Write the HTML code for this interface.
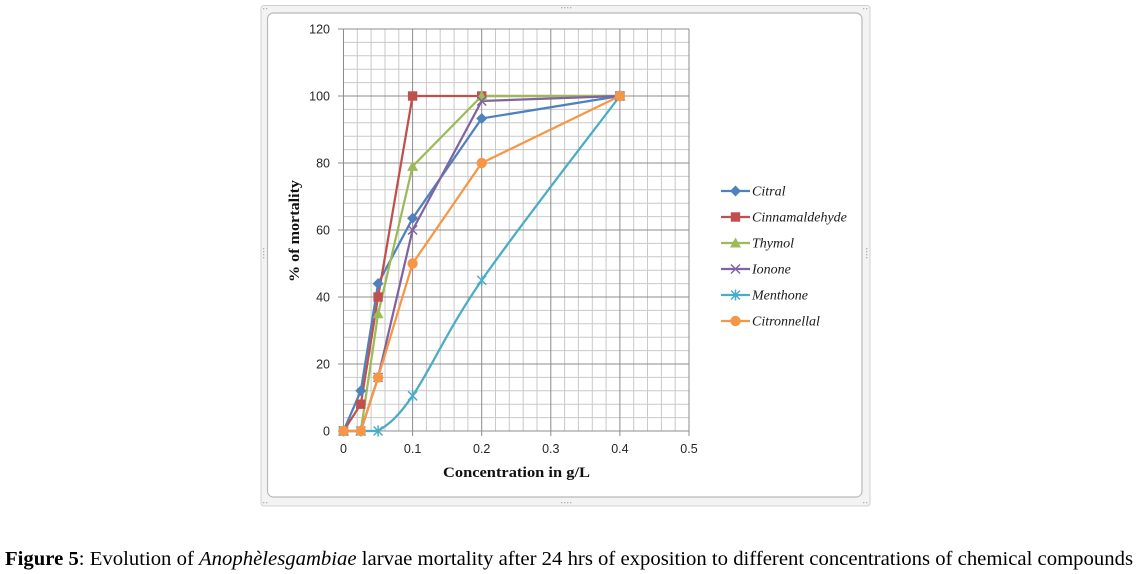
<!DOCTYPE html>
<html><head><meta charset="utf-8"><style>
html,body{margin:0;padding:0;background:#fff;}
svg{display:block;}
</style></head><body>
<svg width="1139" height="574" viewBox="0 0 1139 574" xmlns="http://www.w3.org/2000/svg">
<rect x="0" y="0" width="1139" height="574" fill="#fff"/>
<!-- frame -->
<rect x="261" y="5.5" width="609" height="500.5" rx="3" fill="#f3f3f3" stroke="#d2d2d2" stroke-width="1"/>
<rect x="267.5" y="13" width="594.5" height="484" rx="6" fill="#ffffff" stroke="#b9b9b9" stroke-width="1.2"/>
<g fill="#b0b0b0">
<rect x="561" y="7" width="1.3" height="1.3"/><rect x="564" y="7" width="1.3" height="1.3"/><rect x="567" y="7" width="1.3" height="1.3"/><rect x="570" y="7" width="1.3" height="1.3"/>
<rect x="561" y="502" width="1.3" height="1.3"/><rect x="564" y="502" width="1.3" height="1.3"/><rect x="567" y="502" width="1.3" height="1.3"/><rect x="570" y="502" width="1.3" height="1.3"/>
<rect x="263" y="248" width="1.3" height="1.3"/><rect x="263" y="251" width="1.3" height="1.3"/><rect x="263" y="254" width="1.3" height="1.3"/><rect x="263" y="257" width="1.3" height="1.3"/>
<rect x="866" y="248" width="1.3" height="1.3"/><rect x="866" y="251" width="1.3" height="1.3"/><rect x="866" y="254" width="1.3" height="1.3"/><rect x="866" y="257" width="1.3" height="1.3"/>
<rect x="263" y="8" width="1.3" height="1.3"/><rect x="266" y="8" width="1.3" height="1.3"/>
<rect x="863" y="8" width="1.3" height="1.3"/><rect x="866" y="8" width="1.3" height="1.3"/>
<rect x="263" y="502" width="1.3" height="1.3"/><rect x="266" y="502" width="1.3" height="1.3"/>
<rect x="863" y="502" width="1.3" height="1.3"/><rect x="866" y="502" width="1.3" height="1.3"/>
</g>

<!-- minor grid -->
<g stroke="#c9c9c9" stroke-width="1">
<line x1="357.3" y1="29" x2="357.3" y2="431"/><line x1="371.1" y1="29" x2="371.1" y2="431"/><line x1="385.0" y1="29" x2="385.0" y2="431"/><line x1="398.8" y1="29" x2="398.8" y2="431"/>
<line x1="426.4" y1="29" x2="426.4" y2="431"/><line x1="440.2" y1="29" x2="440.2" y2="431"/><line x1="454.1" y1="29" x2="454.1" y2="431"/><line x1="467.9" y1="29" x2="467.9" y2="431"/>
<line x1="495.5" y1="29" x2="495.5" y2="431"/><line x1="509.3" y1="29" x2="509.3" y2="431"/><line x1="523.2" y1="29" x2="523.2" y2="431"/><line x1="537.0" y1="29" x2="537.0" y2="431"/>
<line x1="564.6" y1="29" x2="564.6" y2="431"/><line x1="578.4" y1="29" x2="578.4" y2="431"/><line x1="592.3" y1="29" x2="592.3" y2="431"/><line x1="606.1" y1="29" x2="606.1" y2="431"/>
<line x1="633.7" y1="29" x2="633.7" y2="431"/><line x1="647.5" y1="29" x2="647.5" y2="431"/><line x1="661.4" y1="29" x2="661.4" y2="431"/><line x1="675.2" y1="29" x2="675.2" y2="431"/>
<line x1="343.5" y1="417.6" x2="689" y2="417.6"/><line x1="343.5" y1="404.2" x2="689" y2="404.2"/><line x1="343.5" y1="390.8" x2="689" y2="390.8"/><line x1="343.5" y1="377.4" x2="689" y2="377.4"/>
<line x1="343.5" y1="350.6" x2="689" y2="350.6"/><line x1="343.5" y1="337.2" x2="689" y2="337.2"/><line x1="343.5" y1="323.8" x2="689" y2="323.8"/><line x1="343.5" y1="310.4" x2="689" y2="310.4"/>
<line x1="343.5" y1="283.6" x2="689" y2="283.6"/><line x1="343.5" y1="270.2" x2="689" y2="270.2"/><line x1="343.5" y1="256.8" x2="689" y2="256.8"/><line x1="343.5" y1="243.4" x2="689" y2="243.4"/>
<line x1="343.5" y1="216.6" x2="689" y2="216.6"/><line x1="343.5" y1="203.2" x2="689" y2="203.2"/><line x1="343.5" y1="189.8" x2="689" y2="189.8"/><line x1="343.5" y1="176.4" x2="689" y2="176.4"/>
<line x1="343.5" y1="149.6" x2="689" y2="149.6"/><line x1="343.5" y1="136.2" x2="689" y2="136.2"/><line x1="343.5" y1="122.8" x2="689" y2="122.8"/><line x1="343.5" y1="109.4" x2="689" y2="109.4"/>
<line x1="343.5" y1="82.6" x2="689" y2="82.6"/><line x1="343.5" y1="69.2" x2="689" y2="69.2"/><line x1="343.5" y1="55.8" x2="689" y2="55.8"/><line x1="343.5" y1="42.4" x2="689" y2="42.4"/>
</g>
<!-- major grid -->
<g stroke="#8c8c8c" stroke-width="1">
<line x1="343.5" y1="29" x2="343.5" y2="436"/>
<line x1="412.6" y1="29" x2="412.6" y2="436"/>
<line x1="481.7" y1="29" x2="481.7" y2="436"/>
<line x1="550.8" y1="29" x2="550.8" y2="436"/>
<line x1="619.9" y1="29" x2="619.9" y2="436"/>
<line x1="689" y1="29" x2="689" y2="436"/>
<line x1="338" y1="431" x2="689" y2="431"/>
<line x1="338" y1="364" x2="689" y2="364"/>
<line x1="338" y1="297" x2="689" y2="297"/>
<line x1="338" y1="230" x2="689" y2="230"/>
<line x1="338" y1="163" x2="689" y2="163"/>
<line x1="338" y1="96" x2="689" y2="96"/>
<line x1="338" y1="29" x2="689" y2="29"/>
</g>

<!-- tick labels -->
<g font-family="Liberation Sans, sans-serif" font-size="12.5" fill="#262626" text-anchor="end">
<text x="330" y="435.5">0</text>
<text x="330" y="368.5">20</text>
<text x="330" y="301.5">40</text>
<text x="330" y="234.5">60</text>
<text x="330" y="167.5">80</text>
<text x="330" y="100.5">100</text>
<text x="330" y="33.5">120</text>
</g>
<g font-family="Liberation Sans, sans-serif" font-size="12.5" fill="#262626" text-anchor="middle">
<text x="343.5" y="453">0</text>
<text x="412.6" y="453">0.1</text>
<text x="481.7" y="453">0.2</text>
<text x="550.8" y="453">0.3</text>
<text x="619.9" y="453">0.4</text>
<text x="689" y="453">0.5</text>
</g>

<!-- axis titles -->
<text x="516.5" y="477" font-family="Liberation Serif, serif" font-weight="bold" font-size="15" fill="#111" text-anchor="middle" textLength="147" lengthAdjust="spacingAndGlyphs">Concentration  in g/L</text>
<text transform="translate(299,231) rotate(-90)" x="0" y="0" font-family="Liberation Serif, serif" font-weight="bold" font-size="15" fill="#111" text-anchor="middle" textLength="102" lengthAdjust="spacingAndGlyphs">% of mortality</text>

<!-- series lines -->
<g fill="none" stroke-width="2.25" stroke-linejoin="round" stroke-linecap="round">
<polyline stroke="#4F81BD" points="343.5,431 360.8,390.8 378.1,283.6 412.6,218.3 481.7,118.45 619.9,96"/>
<polyline stroke="#C0504D" points="343.5,431 360.8,404.2 378.1,297 412.6,96 481.7,96 619.9,96"/>
<polyline stroke="#9BBB59" points="343.5,431 360.8,431 378.1,313.75 412.6,166.35 481.7,96 619.9,96"/>
<polyline stroke="#8064A2" points="343.5,431 360.8,431 378.1,377.4 412.6,230 481.7,101 619.9,96"/>
<path stroke="#4BACC6" d="M343.5,431 L378.1,431 C386.7,425.1 395.3,420.9 412.6,395.8 C429.9,370.7 447.15,330.2 481.7,280.25 C516.25,230.3 596.9,126.7 619.9,96"/>
<polyline stroke="#F79646" points="343.5,431 360.8,431 378.1,377.4 412.6,263.5 481.7,163 619.9,96"/>
</g>

<!-- markers -->
<defs>
<path id="dia" d="M0,-5.5 L5.5,0 L0,5.5 L-5.5,0 Z"/>
<rect id="sq" x="-4.7" y="-4.7" width="9.4" height="9.4"/>
<path id="tri" d="M0,-5.5 L5.5,4.5 L-5.5,4.5 Z"/>
<path id="xx" d="M-4.5,-4.5 L4.5,4.5 M-4.5,4.5 L4.5,-4.5"/>
<path id="ast" d="M-4.5,-4.5 L4.5,4.5 M-4.5,4.5 L4.5,-4.5 M0,-5.5 L0,5.5"/>
<circle id="cir" r="5.2"/>
</defs>
<g fill="#4F81BD">
<use href="#dia" x="343.5" y="431"/><use href="#dia" x="360.8" y="390.8"/><use href="#dia" x="378.1" y="283.6"/><use href="#dia" x="412.6" y="218.3"/><use href="#dia" x="481.7" y="118.45"/><use href="#dia" x="619.9" y="96"/>
</g>
<g fill="#C0504D">
<use href="#sq" x="343.5" y="431"/><use href="#sq" x="360.8" y="404.2"/><use href="#sq" x="378.1" y="297"/><use href="#sq" x="412.6" y="96"/><use href="#sq" x="481.7" y="96"/><use href="#sq" x="619.9" y="96"/>
</g>
<g fill="#9BBB59">
<use href="#tri" x="343.5" y="431"/><use href="#tri" x="360.8" y="431"/><use href="#tri" x="378.1" y="313.75"/><use href="#tri" x="412.6" y="166.35"/><use href="#tri" x="481.7" y="96"/><use href="#tri" x="619.9" y="96"/>
</g>
<g stroke="#8064A2" stroke-width="1.5" fill="none">
<use href="#xx" x="343.5" y="431"/><use href="#xx" x="360.8" y="431"/><use href="#xx" x="378.1" y="377.4"/><use href="#xx" x="412.6" y="230"/><use href="#xx" x="481.7" y="101"/><use href="#xx" x="619.9" y="96"/>
</g>
<g stroke="#4BACC6" stroke-width="1.5" fill="none">
<use href="#ast" x="343.5" y="431"/><use href="#ast" x="360.8" y="431"/><use href="#ast" x="378.1" y="431"/><use href="#ast" x="412.6" y="395.8"/><use href="#ast" x="481.7" y="280.25"/><use href="#ast" x="619.9" y="96"/>
</g>
<g fill="#F79646">
<use href="#cir" x="343.5" y="431"/><use href="#cir" x="360.8" y="431"/><use href="#cir" x="378.1" y="377.4"/><use href="#cir" x="412.6" y="263.5"/><use href="#cir" x="481.7" y="163"/><use href="#cir" x="619.9" y="96"/>
</g>

<!-- legend -->
<g stroke-width="2.25" fill="none">
<line x1="721" y1="191" x2="750" y2="191" stroke="#4F81BD"/>
<line x1="721" y1="217" x2="750" y2="217" stroke="#C0504D"/>
<line x1="721" y1="243" x2="750" y2="243" stroke="#9BBB59"/>
<line x1="721" y1="269" x2="750" y2="269" stroke="#8064A2"/>
<line x1="721" y1="295" x2="750" y2="295" stroke="#4BACC6"/>
<line x1="721" y1="321" x2="750" y2="321" stroke="#F79646"/>
</g>
<use href="#dia" x="735.5" y="191" fill="#4F81BD"/>
<use href="#sq" x="735.5" y="217" fill="#C0504D"/>
<use href="#tri" x="735.5" y="243" fill="#9BBB59"/>
<use href="#xx" x="735.5" y="269" stroke="#8064A2" stroke-width="1.5" fill="none"/>
<use href="#ast" x="735.5" y="295" stroke="#4BACC6" stroke-width="1.5" fill="none"/>
<use href="#cir" x="735.5" y="321" fill="#F79646"/>
<g font-family="Liberation Serif, serif" font-style="italic" font-size="14" fill="#1a1a1a">
<text x="752" y="195.5">Citral</text>
<text x="752" y="221.5">Cinnamaldehyde</text>
<text x="752" y="247.5">Thymol</text>
<text x="752" y="273.5">Ionone</text>
<text x="752" y="299.5">Menthone</text>
<text x="752" y="325.5">Citronnellal</text>
</g>

<!-- caption -->
<text x="5" y="565" font-family="Liberation Serif, serif" font-size="20" fill="#000" textLength="1128" lengthAdjust="spacingAndGlyphs"><tspan font-weight="bold">Figure 5</tspan>: Evolution of <tspan font-style="italic">Anophèlesgambiae</tspan> larvae mortality after 24 hrs of exposition to different concentrations of chemical compounds</text>
</svg>
</body></html>
